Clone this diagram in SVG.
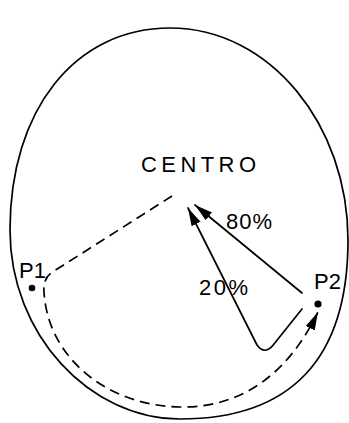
<svg xmlns="http://www.w3.org/2000/svg" width="349" height="423" viewBox="0 0 349 423">
<style>
.ln{fill:none;stroke:#000;stroke-width:1.7;stroke-linecap:round;stroke-linejoin:round}
.dash{stroke-dasharray:10 6;stroke-linecap:butt}
.t{font-family:"Liberation Sans",Arial,sans-serif;font-size:22px;fill:#000}
</style>
<defs>
<marker id="ah" markerUnits="userSpaceOnUse" markerWidth="19" markerHeight="11" refX="18" refY="5" orient="auto">
<path d="M0,0 L18,5 L0,10 Z" fill="#000"/>
</marker>
</defs>
<rect width="349" height="423" fill="#fff"/>
<g id="outline">
<path class="ln" d="M170,28 C270,28 348,125 348,240 C348,360 290,419 180,419 C90,419 10,335 10,230 C10,110 75,28 170,28 Z"/>
</g>
<g id="connectors">
<path class="ln dash" d="M172,196 L51,273 Q43,279 44,292 C48,360 110,406 180,407 C245,408 290,370 318,312" marker-end="url(#ah)"/>
<path class="ln" d="M302,293 L195,205" marker-end="url(#ah)"/>
<path class="ln" d="M302,309 L274,344 Q265,356 257,345 L188,208" marker-end="url(#ah)"/>
</g>
<g id="centro">
<text class="t" x="141" y="172" textLength="115" lengthAdjust="spacing">CENTRO</text>
</g>
<g id="p1">
<circle cx="32" cy="288" r="3.3" fill="#000"/>
<text class="t" x="19" y="278">P1</text>
</g>
<g id="p2">
<circle cx="318" cy="304" r="3.6" fill="#000"/>
<text class="t" x="314" y="289">P2</text>
</g>
<g id="label80">
<text class="t" x="226" y="229" textLength="46" lengthAdjust="spacing">80%</text>
</g>
<g id="label20">
<text class="t" x="199" y="295" textLength="49" lengthAdjust="spacing">20%</text>
</g>
</svg>
